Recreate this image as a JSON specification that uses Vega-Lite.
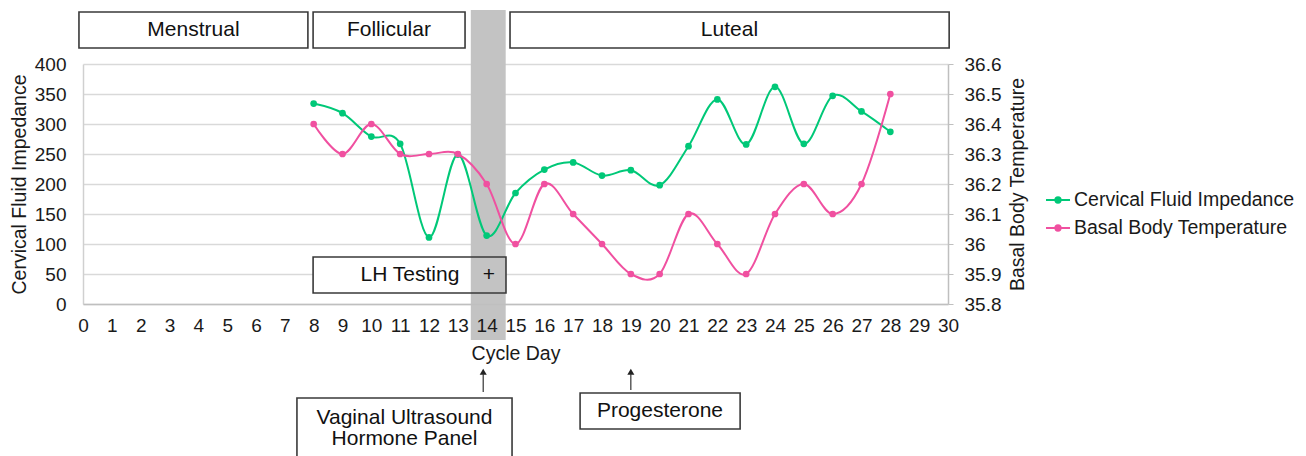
{
  "$schema": "https://vega.github.io/schema/vega-lite/v6.json",
  "width": 865,
  "height": 240,
  "autosize": {"type": "none"},
  "padding": {"left": 83, "top": 64, "right": 358, "bottom": 152},
  "background": "white",
  "config": {
    "font": "Liberation Sans",
    "view": {"stroke": null},
    "axis": {
      "labelFont": "Liberation Sans",
      "titleFont": "Liberation Sans",
      "labelColor": "#1a1a1a",
      "titleColor": "#1a1a1a",
      "labelFontSize": 19,
      "titleFontSize": 19.5,
      "titleFontWeight": "normal"
    },
    "legend": {
      "orient": "none",
      "legendX": 962,
      "legendY": 123,
      "padding": 0,
      "labelFont": "Liberation Sans",
      "labelFontSize": 19.5,
      "labelColor": "#1a1a1a",
      "labelLimit": 0,
      "symbolType": "M-1,0L1,0M0.22,0A0.22,0.22,0,1,1,-0.22,0A0.22,0.22,0,1,1,0.22,0Z",
      "symbolSize": 576,
      "symbolStrokeWidth": 2,
      "rowPadding": 5,
      "labelOffset": 3
    }
  },
  "datasets": {
    "cfi": [
      {"day": 8, "value": 334, "series": "Cervical Fluid Impedance"},
      {"day": 9, "value": 318, "series": "Cervical Fluid Impedance"},
      {"day": 10, "value": 279, "series": "Cervical Fluid Impedance"},
      {"day": 11, "value": 267, "series": "Cervical Fluid Impedance"},
      {"day": 12, "value": 111, "series": "Cervical Fluid Impedance"},
      {"day": 13, "value": 249, "series": "Cervical Fluid Impedance"},
      {"day": 14, "value": 114, "series": "Cervical Fluid Impedance"},
      {"day": 15, "value": 185, "series": "Cervical Fluid Impedance"},
      {"day": 16, "value": 224, "series": "Cervical Fluid Impedance"},
      {"day": 17, "value": 236, "series": "Cervical Fluid Impedance"},
      {"day": 18, "value": 214, "series": "Cervical Fluid Impedance"},
      {"day": 19, "value": 223, "series": "Cervical Fluid Impedance"},
      {"day": 20, "value": 198, "series": "Cervical Fluid Impedance"},
      {"day": 21, "value": 263, "series": "Cervical Fluid Impedance"},
      {"day": 22, "value": 341, "series": "Cervical Fluid Impedance"},
      {"day": 23, "value": 266, "series": "Cervical Fluid Impedance"},
      {"day": 24, "value": 362, "series": "Cervical Fluid Impedance"},
      {"day": 25, "value": 267, "series": "Cervical Fluid Impedance"},
      {"day": 26, "value": 347, "series": "Cervical Fluid Impedance"},
      {"day": 27, "value": 321, "series": "Cervical Fluid Impedance"},
      {"day": 28, "value": 287, "series": "Cervical Fluid Impedance"}
    ],
    "bbt": [
      {"day": 8, "value": 36.4, "series": "Basal Body Temperature"},
      {"day": 9, "value": 36.3, "series": "Basal Body Temperature"},
      {"day": 10, "value": 36.4, "series": "Basal Body Temperature"},
      {"day": 11, "value": 36.3, "series": "Basal Body Temperature"},
      {"day": 12, "value": 36.3, "series": "Basal Body Temperature"},
      {"day": 13, "value": 36.3, "series": "Basal Body Temperature"},
      {"day": 14, "value": 36.2, "series": "Basal Body Temperature"},
      {"day": 15, "value": 36.0, "series": "Basal Body Temperature"},
      {"day": 16, "value": 36.2, "series": "Basal Body Temperature"},
      {"day": 17, "value": 36.1, "series": "Basal Body Temperature"},
      {"day": 18, "value": 36.0, "series": "Basal Body Temperature"},
      {"day": 19, "value": 35.9, "series": "Basal Body Temperature"},
      {"day": 20, "value": 35.9, "series": "Basal Body Temperature"},
      {"day": 21, "value": 36.1, "series": "Basal Body Temperature"},
      {"day": 22, "value": 36.0, "series": "Basal Body Temperature"},
      {"day": 23, "value": 35.9, "series": "Basal Body Temperature"},
      {"day": 24, "value": 36.1, "series": "Basal Body Temperature"},
      {"day": 25, "value": 36.2, "series": "Basal Body Temperature"},
      {"day": 26, "value": 36.1, "series": "Basal Body Temperature"},
      {"day": 27, "value": 36.2, "series": "Basal Body Temperature"},
      {"day": 28, "value": 36.5, "series": "Basal Body Temperature"}
    ],
    "boxes": [
      {"label": "Menstrual", "x1": -0.14, "x2": 7.8, "y1": 426.7, "y2": 486.7},
      {"label": "Follicular", "x1": 7.98, "x2": 13.25, "y1": 426.7, "y2": 486.7},
      {"label": "Luteal", "x1": 14.81, "x2": 30.04, "y1": 426.7, "y2": 486.7},
      {"label": "LH Testing", "x1": 7.98, "x2": 14.67, "y1": 18.3, "y2": 78.3},
      {"label": "Vaginal Ultrasound", "x1": 7.42, "x2": 14.88, "y1": -156.7, "y2": -275},
      {"label": "Progesterone", "x1": 17.24, "x2": 22.79, "y1": -148.3, "y2": -208.3}
    ],
    "band": [
      {"x1": 13.45, "x2": 14.66, "y1": -60, "y2": 490}
    ],
    "texts": [
      {"text": "Menstrual", "x": 3.83, "y": 456.7},
      {"text": "Follicular", "x": 10.61, "y": 456.7},
      {"text": "Luteal", "x": 22.42, "y": 456.7},
      {"text": "LH Testing", "x": 11.34, "y": 49},
      {"text": "+", "x": 14.08, "y": 49},
      {"text": "Vaginal Ultrasound\nHormone Panel", "x": 11.15, "y": -189.2},
      {"text": "Progesterone", "x": 20.01, "y": -178.3}
    ],
    "arrows": [
      {"x": 13.88, "y1": -146.7, "y2": -117, "tip": -113},
      {"x": 19.0, "y1": -143.3, "y2": -117, "tip": -113}
    ]
  },
  "layer": [
    {
      "layer": [
        {
          "data": {"name": "boxes"},
          "mark": {"type": "rect", "fill": "white", "strokeWidth": 0},
          "encoding": {
            "x": {"field": "x1", "type": "quantitative", "scale": {"domain": [0, 30], "nice": false},
              "axis": {"orient": "bottom", "values": [0, 1, 2, 3, 4, 5, 6, 7, 8, 9, 10, 11, 12, 13, 14, 15, 16, 17, 18, 19, 20, 21, 22, 23, 24, 25, 26, 27, 28, 29, 30], "grid": false, "ticks": false, "tickSize": 0, "domainColor": "#BFBFBF", "domainWidth": 1.5, "labelPadding": 12, "labelFlush": false, "labelOverlap": false, "title": "Cycle Day", "titlePadding": 9, "zindex": 1}},
            "x2": {"field": "x2"},
            "y": {"field": "y1", "type": "quantitative", "scale": {"domain": [0, 400], "nice": false},
              "axis": {"orient": "left", "values": [0, 50, 100, 150, 200, 250, 300, 350, 400], "grid": true, "gridColor": "#D9D9D9", "gridWidth": 1.5, "domainColor": "#D0D0D0", "domainWidth": 1.5, "ticks": false, "tickSize": 0, "labelPadding": 17, "labelOverlap": false, "title": "Cervical Fluid Impedance", "titlePadding": 5, "zindex": 0}},
            "y2": {"field": "y2"}
          }
        },
        {
          "data": {"name": "band"},
          "mark": {"type": "rect", "fill": "#C3C3C3", "strokeWidth": 0},
          "encoding": {
            "x": {"field": "x1", "type": "quantitative", "scale": {"domain": [0, 30], "nice": false},
              "axis": {"orient": "bottom", "values": [0, 1, 2, 3, 4, 5, 6, 7, 8, 9, 10, 11, 12, 13, 14, 15, 16, 17, 18, 19, 20, 21, 22, 23, 24, 25, 26, 27, 28, 29, 30], "grid": false, "ticks": false, "tickSize": 0, "domainColor": "#BFBFBF", "domainWidth": 1.5, "labelPadding": 12, "labelFlush": false, "labelOverlap": false, "title": "Cycle Day", "titlePadding": 9, "zindex": 1}},
            "x2": {"field": "x2"},
            "y": {"field": "y1", "type": "quantitative", "scale": {"domain": [0, 400], "nice": false},
              "axis": {"orient": "left", "values": [0, 50, 100, 150, 200, 250, 300, 350, 400], "grid": true, "gridColor": "#D9D9D9", "gridWidth": 1.5, "domainColor": "#D0D0D0", "domainWidth": 1.5, "ticks": false, "tickSize": 0, "labelPadding": 17, "labelOverlap": false, "title": "Cervical Fluid Impedance", "titlePadding": 5, "zindex": 0}},
            "y2": {"field": "y2"}
          }
        },
        {
          "data": {"name": "boxes"},
          "mark": {"type": "rect", "fill": "transparent", "stroke": "#3a3a3a", "strokeWidth": 1.6},
          "encoding": {
            "x": {"field": "x1", "type": "quantitative", "scale": {"domain": [0, 30], "nice": false},
              "axis": {"orient": "bottom", "values": [0, 1, 2, 3, 4, 5, 6, 7, 8, 9, 10, 11, 12, 13, 14, 15, 16, 17, 18, 19, 20, 21, 22, 23, 24, 25, 26, 27, 28, 29, 30], "grid": false, "ticks": false, "tickSize": 0, "domainColor": "#BFBFBF", "domainWidth": 1.5, "labelPadding": 12, "labelFlush": false, "labelOverlap": false, "title": "Cycle Day", "titlePadding": 9, "zindex": 1}},
            "x2": {"field": "x2"},
            "y": {"field": "y1", "type": "quantitative", "scale": {"domain": [0, 400], "nice": false},
              "axis": {"orient": "left", "values": [0, 50, 100, 150, 200, 250, 300, 350, 400], "grid": true, "gridColor": "#D9D9D9", "gridWidth": 1.5, "domainColor": "#D0D0D0", "domainWidth": 1.5, "ticks": false, "tickSize": 0, "labelPadding": 17, "labelOverlap": false, "title": "Cervical Fluid Impedance", "titlePadding": 5, "zindex": 0}},
            "y2": {"field": "y2"}
          }
        },
        {
          "data": {"name": "texts"},
          "mark": {"type": "text", "font": "Liberation Sans", "fontSize": 21, "color": "#111111", "align": "center", "baseline": "middle", "lineBreak": "\n", "lineHeight": 21},
          "encoding": {
            "x": {"field": "x", "type": "quantitative", "scale": {"domain": [0, 30], "nice": false},
              "axis": {"orient": "bottom", "values": [0, 1, 2, 3, 4, 5, 6, 7, 8, 9, 10, 11, 12, 13, 14, 15, 16, 17, 18, 19, 20, 21, 22, 23, 24, 25, 26, 27, 28, 29, 30], "grid": false, "ticks": false, "tickSize": 0, "domainColor": "#BFBFBF", "domainWidth": 1.5, "labelPadding": 12, "labelFlush": false, "labelOverlap": false, "title": "Cycle Day", "titlePadding": 9, "zindex": 1}},
            "y": {"field": "y", "type": "quantitative", "scale": {"domain": [0, 400], "nice": false},
              "axis": {"orient": "left", "values": [0, 50, 100, 150, 200, 250, 300, 350, 400], "grid": true, "gridColor": "#D9D9D9", "gridWidth": 1.5, "domainColor": "#D0D0D0", "domainWidth": 1.5, "ticks": false, "tickSize": 0, "labelPadding": 17, "labelOverlap": false, "title": "Cervical Fluid Impedance", "titlePadding": 5, "zindex": 0}},
            "text": {"field": "text"}
          }
        },
        {
          "data": {"name": "arrows"},
          "mark": {"type": "rule", "color": "#333333", "strokeWidth": 1.2},
          "encoding": {
            "x": {"field": "x", "type": "quantitative", "scale": {"domain": [0, 30], "nice": false},
              "axis": {"orient": "bottom", "values": [0, 1, 2, 3, 4, 5, 6, 7, 8, 9, 10, 11, 12, 13, 14, 15, 16, 17, 18, 19, 20, 21, 22, 23, 24, 25, 26, 27, 28, 29, 30], "grid": false, "ticks": false, "tickSize": 0, "domainColor": "#BFBFBF", "domainWidth": 1.5, "labelPadding": 12, "labelFlush": false, "labelOverlap": false, "title": "Cycle Day", "titlePadding": 9, "zindex": 1}},
            "y": {"field": "y1", "type": "quantitative", "scale": {"domain": [0, 400], "nice": false},
              "axis": {"orient": "left", "values": [0, 50, 100, 150, 200, 250, 300, 350, 400], "grid": true, "gridColor": "#D9D9D9", "gridWidth": 1.5, "domainColor": "#D0D0D0", "domainWidth": 1.5, "ticks": false, "tickSize": 0, "labelPadding": 17, "labelOverlap": false, "title": "Cervical Fluid Impedance", "titlePadding": 5, "zindex": 0}},
            "y2": {"field": "y2"}
          }
        },
        {
          "data": {"name": "arrows"},
          "mark": {"type": "point", "shape": "triangle-up", "filled": true, "color": "#222222", "size": 50, "opacity": 1},
          "encoding": {
            "x": {"field": "x", "type": "quantitative", "scale": {"domain": [0, 30], "nice": false},
              "axis": {"orient": "bottom", "values": [0, 1, 2, 3, 4, 5, 6, 7, 8, 9, 10, 11, 12, 13, 14, 15, 16, 17, 18, 19, 20, 21, 22, 23, 24, 25, 26, 27, 28, 29, 30], "grid": false, "ticks": false, "tickSize": 0, "domainColor": "#BFBFBF", "domainWidth": 1.5, "labelPadding": 12, "labelFlush": false, "labelOverlap": false, "title": "Cycle Day", "titlePadding": 9, "zindex": 1}},
            "y": {"field": "tip", "type": "quantitative", "scale": {"domain": [0, 400], "nice": false},
              "axis": {"orient": "left", "values": [0, 50, 100, 150, 200, 250, 300, 350, 400], "grid": true, "gridColor": "#D9D9D9", "gridWidth": 1.5, "domainColor": "#D0D0D0", "domainWidth": 1.5, "ticks": false, "tickSize": 0, "labelPadding": 17, "labelOverlap": false, "title": "Cervical Fluid Impedance", "titlePadding": 5, "zindex": 0}}
          }
        },
        {
          "data": {"name": "cfi"},
          "mark": {"type": "line", "interpolate": "cardinal", "strokeWidth": 2, "point": {"filled": true, "size": 45, "opacity": 1}},
          "encoding": {
            "x": {"field": "day", "type": "quantitative", "scale": {"domain": [0, 30], "nice": false},
              "axis": {"orient": "bottom", "values": [0, 1, 2, 3, 4, 5, 6, 7, 8, 9, 10, 11, 12, 13, 14, 15, 16, 17, 18, 19, 20, 21, 22, 23, 24, 25, 26, 27, 28, 29, 30], "grid": false, "ticks": false, "tickSize": 0, "domainColor": "#BFBFBF", "domainWidth": 1.5, "labelPadding": 12, "labelFlush": false, "labelOverlap": false, "title": "Cycle Day", "titlePadding": 9, "zindex": 1}},
            "y": {"field": "value", "type": "quantitative", "scale": {"domain": [0, 400], "nice": false},
              "axis": {"orient": "left", "values": [0, 50, 100, 150, 200, 250, 300, 350, 400], "grid": true, "gridColor": "#D9D9D9", "gridWidth": 1.5, "domainColor": "#D0D0D0", "domainWidth": 1.5, "ticks": false, "tickSize": 0, "labelPadding": 17, "labelOverlap": false, "title": "Cervical Fluid Impedance", "titlePadding": 5, "zindex": 0}},
            "color": {
              "field": "series",
              "type": "nominal",
              "scale": {"domain": ["Cervical Fluid Impedance", "Basal Body Temperature"], "range": ["#00C878", "#F050A0"]},
              "legend": {
                "title": null,
                "encode": {"symbols": {"update": {"fill": {"scale": "color", "field": "value"}, "stroke": {"scale": "color", "field": "value"}, "opacity": {"value": 1}}}}
              }
            }
          }
        }
      ]
    },
    {
      "layer": [
        {
          "data": {"name": "bbt"},
          "mark": {"type": "line", "interpolate": "cardinal", "strokeWidth": 2, "point": {"filled": true, "size": 45, "opacity": 1}},
          "encoding": {
            "x": {"field": "day", "type": "quantitative", "scale": {"domain": [0, 30], "nice": false},
              "axis": {"orient": "bottom", "values": [0, 1, 2, 3, 4, 5, 6, 7, 8, 9, 10, 11, 12, 13, 14, 15, 16, 17, 18, 19, 20, 21, 22, 23, 24, 25, 26, 27, 28, 29, 30], "grid": false, "ticks": false, "tickSize": 0, "domainColor": "#BFBFBF", "domainWidth": 1.5, "labelPadding": 12, "labelFlush": false, "labelOverlap": false, "title": "Cycle Day", "titlePadding": 9, "zindex": 1}},
            "y": {
              "field": "value",
              "type": "quantitative",
              "scale": {"domain": [35.8, 36.6], "nice": false, "zero": false},
              "axis": {
                "orient": "right",
                "values": [35.8, 35.9, 36.0, 36.1, 36.2, 36.3, 36.4, 36.5, 36.6],
                "labelExpr": "format(datum.value, '.1~f')",
                "grid": false,
                "domainColor": "#BFBFBF",
                "domainWidth": 1.5,
                "ticks": true,
                "tickColor": "#BFBFBF",
                "tickSize": 5,
                "labelPadding": 11,
                "labelOverlap": false,
                "title": "Basal Body Temperature",
                "titleAngle": 270,
                "titleBaseline": "top",
                "titlePadding": 8
              }
            },
            "color": {
              "field": "series",
              "type": "nominal",
              "scale": {"domain": ["Cervical Fluid Impedance", "Basal Body Temperature"], "range": ["#00C878", "#F050A0"]},
              "legend": {
                "title": null,
                "encode": {"symbols": {"update": {"fill": {"scale": "color", "field": "value"}, "stroke": {"scale": "color", "field": "value"}, "opacity": {"value": 1}}}}
              }
            }
          }
        }
      ]
    }
  ],
  "resolve": {"scale": {"y": "independent"}}
}
